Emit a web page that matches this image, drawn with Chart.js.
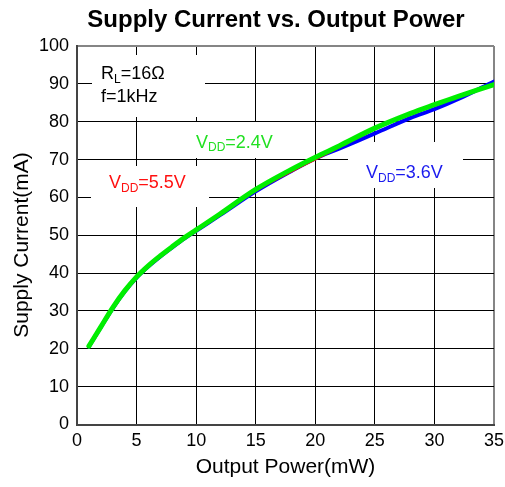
<!DOCTYPE html>
<html>
<head>
<meta charset="utf-8">
<script src="https://cdn.jsdelivr.net/npm/chart.js@4/dist/chart.umd.min.js"></script>
<style>
  html, body { margin: 0; padding: 0; background: #fff; }
  #wrap { width: 505px; height: 487px; }
</style>
</head>
<body>
<div id="wrap"><canvas id="chart"></canvas></div>
<script>
const powerMw = [1, 2, 3, 4, 5, 6, 7, 8, 9, 10, 12, 15, 18, 20, 22, 25, 28, 30, 32, 35];
const currentVdd24 = [20.7, 25.8, 30.9, 35.3, 39.0, 42.0, 44.6, 47.0, 49.3, 51.4, 55.6, 62.1, 67.4, 70.6, 73.6, 78.3, 82.2, 84.5, 86.7, 89.8];
const currentVdd55 = [20.6, 25.7, 30.7, 35.1, 38.8, 41.8, 44.4, 46.8, 49.1, 51.2, 55.3, 61.7, 66.8, 70.0, 73.2, 78.0, 82.0, 84.3, 86.6, 89.7];
const currentVdd36 = [20.6, 25.7, 30.7, 35.1, 38.8, 41.8, 44.4, 46.8, 49.1, 51.2, 55.3, 61.6, 67.0, 70.3, 72.9, 76.9, 81.0, 83.3, 86.0, 90.6];
const xTicks = [0, 5, 10, 15, 20, 25, 30, 35];
const yTicks = [0, 10, 20, 30, 40, 50, 60, 70, 80, 90, 100];

const FONT = "'Liberation Sans', Arial, sans-serif";

function toPoints(ys) {
  return powerMw.map((x, i) => ({ x: x, y: ys[i] }));
}

// draws "V" + subscript + rest
function subText(ctx, x, y, main, sub, rest, color) {
  ctx.fillStyle = color;
  ctx.textAlign = "left";
  ctx.textBaseline = "alphabetic";
  ctx.font = "18px " + FONT;
  ctx.fillText(main, x, y);
  x += ctx.measureText(main).width;
  ctx.font = "12px " + FONT;
  ctx.fillText(sub, x, y + 3.5);
  x += ctx.measureText(sub).width;
  ctx.font = "18px " + FONT;
  ctx.fillText(rest, x, y);
}

const labelsPlugin = {
  id: "labels",
  beforeDatasetsDraw(chart) {
    const ctx = chart.ctx;
    ctx.save();
    ctx.fillStyle = "#fff";
    ctx.fillRect(92, 55, 113, 62);
    ctx.fillRect(190, 122, 95, 36);
    ctx.fillRect(91, 166, 118, 41);
    ctx.fillRect(348, 142, 115, 46);

    subText(ctx, 101, 79, "R", "L", "=16Ω", "#000");
    ctx.font = "18px " + FONT;
    ctx.fillText("f=1kHz", 101, 101.5);
    subText(ctx, 196, 147.5, "V", "DD", "=2.4V", "#22e022");
    subText(ctx, 109, 188, "V", "DD", "=5.5V", "#ff1010");
    subText(ctx, 366, 178, "V", "DD", "=3.6V", "#1a1aee");
    ctx.restore();
  },
  afterDraw(chart) {
    const ctx = chart.ctx;
    ctx.save();
    ctx.fillStyle = "#000";
    ctx.textAlign = "center";
    ctx.textBaseline = "alphabetic";
    ctx.font = "bold 24px " + FONT;
    ctx.fillText("Supply Current vs. Output Power", 276, 26.5);

    ctx.translate(22, 245);
    ctx.rotate(-Math.PI / 2);
    ctx.textBaseline = "middle";
    ctx.font = "21px " + FONT;
    ctx.fillText("Supply Current(mA)", 0, 0);
    ctx.restore();
  }
};

new Chart(document.getElementById("chart"), {
  type: "line",
  data: {
    datasets: [
      {
        label: "VDD=2.4V",
        data: toPoints(currentVdd24),
        borderColor: "#00ee00",
        borderWidth: 5,
      },
      {
        label: "VDD=5.5V",
        data: toPoints(currentVdd55),
        borderColor: "#ff0000",
        borderWidth: 2,
      },
      {
        label: "VDD=3.6V",
        data: toPoints(currentVdd36),
        borderColor: "#0000ff",
        borderWidth: 4,
      },
    ],
  },
  options: {
    responsive: true,
    maintainAspectRatio: false,
    animation: false,
    events: [],
    layout: { padding: { top: 46, right: 11, left: 0, bottom: 0 } },
    elements: {
      point: { radius: 0 },
      line: { tension: 0.35, borderCapStyle: "round", borderJoinStyle: "round", fill: false },
    },
    plugins: {
      legend: { display: false },
      tooltip: { enabled: false },
      title: { display: false },
    },
    scales: {
      x: {
        type: "linear",
        min: 0,
        max: 35,
        afterBuildTicks: (scale) => { scale.ticks = xTicks.map(v => ({ value: v })); },
        afterFit: (scale) => {
          scale.height = 62.5;
          scale.paddingLeft = 0;
          scale.paddingRight = 0;
        },
        ticks: { color: "#000", font: { family: FONT, size: 18 }, padding: 6 },
        grid: {
          drawTicks: false,
          color: (c) => c.tick && c.tick.value === 35 ? "#858585" : "#000",
          lineWidth: (c) => c.tick && c.tick.value === 35 ? 2 : 1,
        },
        border: { color: "#444", width: 2 },
        title: {
          display: true,
          text: "Output Power(mW)",
          color: "#000",
          font: { family: FONT, size: 21 },
          padding: { top: 0, bottom: 7 },
        },
      },
      y: {
        min: 0,
        max: 100,
        afterBuildTicks: (scale) => { scale.ticks = yTicks.map(v => ({ value: v })); },
        afterFit: (scale) => { scale.width = 77; },
        ticks: { color: "#000", font: { family: FONT, size: 18 }, padding: 8 },
        grid: {
          drawTicks: false,
          color: (c) => c.tick && c.tick.value === 100 ? "#858585" : "#000",
          lineWidth: (c) => c.tick && c.tick.value === 100 ? 2 : 1,
        },
        border: { color: "#444", width: 2 },
      },
    },
  },
  plugins: [labelsPlugin],
});
</script>
</body>
</html>
